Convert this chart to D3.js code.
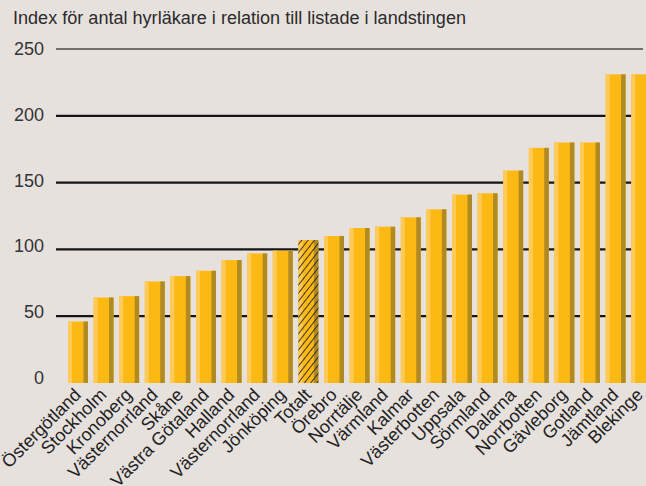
<!DOCTYPE html>
<html>
<head>
<meta charset="utf-8">
<script src="https://cdn.jsdelivr.net/npm/d3@7"></script>
<style>
  html, body { margin: 0; padding: 0; background: #E7E1DE; }
  svg { display: block; }
</style>
</head>
<body>
<div id="chart"></div>
<script>
const categories = ["Östergötland","Stockholm","Kronoberg","Västernorrland","Skåne","Västra Götaland","Halland","Västernorrland","Jönköping","Totalt","Örebro","Norrtälje","Värmland","Kalmar","Västerbotten","Uppsala","Sörmland","Dalarna","Norrbotten","Gävleborg","Gotland","Jämtland","Blekinge"];
const values = [46,64,65,76,80,84,92,97,99,107,110,116,117,124,130,141,142,159,176,180,180,231,231];
const highlighted = ["Totalt"];
const tickValues = [0,50,100,150,200,250];
const title = "Index för antal hyrläkare i relation till listade i landstingen";

const W = 646, H = 486;
const svg = d3.select("#chart").append("svg").attr("width", W).attr("height", H);
svg.append("rect").attr("width", W).attr("height", H).attr("fill", "#E7E1DE");

const defs = svg.append("defs");
const pat = defs.append("pattern").attr("id","hatch").attr("patternUnits","userSpaceOnUse")
  .attr("width", 5).attr("height", 5).attr("patternTransform","rotate(38)");
pat.append("line").attr("x1",0).attr("y1",0).attr("x2",0).attr("y2",5)
  .attr("stroke","#262626").attr("stroke-width",1.8);

const idx = d3.range(categories.length);
const x = d3.scaleBand().domain(idx).range([68, 651.2]).paddingInner(0.22).paddingOuter(0);
const y = d3.scaleLinear().domain([0, 250]).range([383, 49]);
const yLab = d3.scaleLinear().domain([0, 250]).range([378, 49]);

// title
svg.append("text").attr("x", 13).attr("y", 24)
  .attr("font-family", "'Liberation Sans Narrow', 'Liberation Sans', Arial, sans-serif")
  .attr("font-stretch", "condensed")
  .attr("font-size", 17.5).attr("fill", "#2b2b2b")
  .attr("textLength", 453).attr("lengthAdjust", "spacingAndGlyphs")
  .text(title);

// gridlines
svg.append("g").selectAll("line").data(tickValues.filter(d => d > 0)).join("line")
  .attr("x1", 56).attr("x2", 643)
  .attr("y1", d => y(d)).attr("y2", d => y(d))
  .attr("stroke", d => d === 250 ? "#4a4a4a" : "#151515")
  .attr("stroke-width", d => d === 250 ? 1.4 : 2.2);

// tick labels
svg.append("g").selectAll("text").data(tickValues).join("text")
  .attr("x", 44).attr("y", d => yLab(d))
  .attr("text-anchor", "end").attr("dominant-baseline", "central")
  .attr("font-family", "'Liberation Sans', Arial, sans-serif")
  .attr("font-size", 18).attr("fill", "#333")
  .text(d => d);

// bars
const bw = x.bandwidth();
const g = svg.append("g").selectAll("g").data(idx).join("g")
  .attr("transform", i => `translate(${x(i)},0)`);
g.append("rect").attr("x", 0).attr("width", bw)
  .attr("y", i => y(values[i])).attr("height", i => y(0) - y(values[i]))
  .attr("fill", "#FDB913");
g.append("rect").attr("x", 0).attr("width", 4)
  .attr("y", i => y(values[i])).attr("height", i => y(0) - y(values[i]))
  .attr("fill", "#FFCA58");
g.append("rect").attr("x", bw - 4.5).attr("width", 4.5)
  .attr("y", i => y(values[i])).attr("height", i => y(0) - y(values[i]))
  .attr("fill", "#B08A22");
g.filter(i => highlighted.includes(categories[i])).append("rect")
  .attr("x", 0).attr("width", bw)
  .attr("y", i => y(values[i])).attr("height", i => y(0) - y(values[i]))
  .attr("fill", "url(#hatch)");

// category labels
svg.append("g").selectAll("text").data(idx).join("text")
  .attr("transform", i => `translate(${Math.min(x(i) + bw/2 + 4, 644)},${396}) rotate(-45)`)
  .attr("text-anchor", "end")
  .attr("font-family", "'Liberation Sans', Arial, sans-serif")
  .attr("font-size", 18).attr("fill", "#222")
  .text(i => categories[i]);
</script>
</body>
</html>
